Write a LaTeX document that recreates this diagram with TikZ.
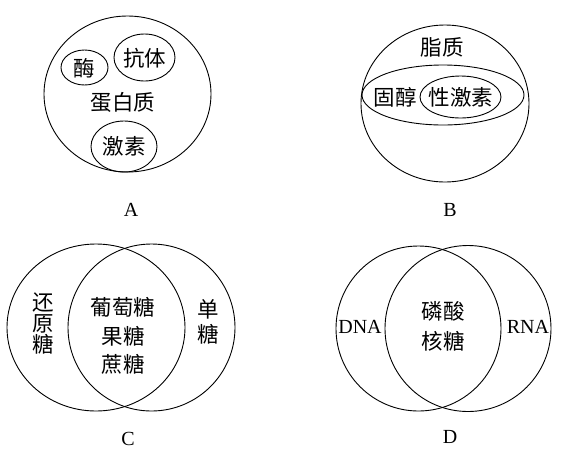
\documentclass[tikz,border=0pt]{standalone}
\usepackage{fontspec}
\setmainfont{Liberation Serif}
\newfontfamily\cjk{Noto Sans CJK SC}
\usetikzlibrary{positioning}

\begin{document}
\begin{tikzpicture}[x=1pt,y=-1pt,line width=0.9pt,
  every node/.style={font=\cjk\fontsize{21.5}{21}\selectfont,inner sep=0pt,align=center},
  lbl/.style={font=\fontsize{20}{21}\selectfont}]
  \useasboundingbox (0,0) rectangle (576,467);
  % A
  \draw (127.5,94) ellipse [x radius=83.5, y radius=78];
  \foreach \cx/\cy/\rx/\ry in {84.5/67.5/23.5/17.5,144.5/57.5/30.5/23.5,124/146.5/33/25.5}{
    \draw (\cx,\cy) ellipse [x radius=\rx, y radius=\ry];
  }
  \node (mei) at (84.5,68) {酶};
  \node (kangti) at (144.5,58) {抗体};
  \node (danbai) at (123,102) {蛋白质};
  \node (jisuA) at (124,146) {激素};
  \node[lbl] (labA) at (131,210) {A};
  % B
  \draw (445,103.5) ellipse [x radius=84, y radius=78.5];
  \draw (443,95) ellipse [x radius=81, y radius=30];
  \draw (460.5,97) ellipse [x radius=40.5, y radius=21];
  \node (zhizhi) at (442,47) {脂质};
  \node (guchun) at (395,97) {固醇};
  \node (xingjisu) at (461,97) {性激素};
  \node[lbl] (labB) at (450,210) {B};
  % C
  \draw (96,327.5) ellipse [x radius=89, y radius=83.5];
  \draw (151.5,327.5) circle [radius=83.5];
  \node[font=\cjk\fontsize{21.5}{21}\selectfont] (huanyuan) at (43,323) {还\\原\\糖};
  \node[font=\cjk\fontsize{21.5}{28.5}\selectfont] (putao) at (123,336) {葡萄糖\\果糖\\蔗糖};
  \node[font=\cjk\fontsize{21.5}{25}\selectfont] (dantang) at (208,322) {单\\糖};
  \node[lbl] (labC) at (128,439) {C};
  % D
  \draw (418.5,328.5) circle [radius=82.5];
  \draw (468,328.5) circle [radius=83];
  \node[lbl] (dna) at (360,327) {DNA};
  \node[lbl] (rna) at (528,327) {RNA};
  \node[font=\cjk\fontsize{21.5}{30}\selectfont] (linsuan) at (443,326) {磷酸\\核糖};
  \node[lbl] (labD) at (450,437) {D};
\end{tikzpicture}
\end{document}
